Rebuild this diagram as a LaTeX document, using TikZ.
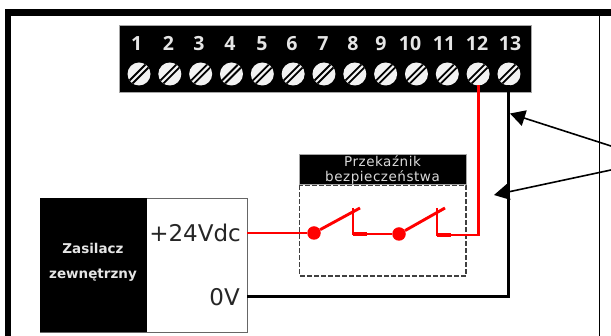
\documentclass[tikz,border=0pt]{standalone}
\usepackage{fontspec}
\setmainfont{DejaVu Sans}
\newfontfamily\numfont[Numbers=Lining]{Open Sans}
\newfontfamily\spacedfont[LetterSpace=4]{DejaVu Sans}
\usetikzlibrary{arrows.meta}
\tikzset{
  numlabel/.style={text=white!90!black,font=\numfont\fontsize{19.5}{20}\selectfont\bfseries,inner sep=0pt,anchor=base},
  redwire/.style={draw=red,line width=2.9pt},
  blackwire/.style={draw=black,line width=3pt},
  callout/.style={draw=black,line width=1.6pt,-{Triangle[length=15pt,width=16pt]}},
  dot/.style={circle,fill=red,inner sep=0pt,minimum size=13.5pt},
}
\newcommand{\screw}[2]{%
  \begin{scope}[shift={(#1,74)}]
    \fill[white!95!black] (0,0) circle (11.5);
    \begin{scope}
      \clip (0,0) circle (11.5);
      \draw[black,line width=1.8pt] (-12,9) -- (9,-12);
      \draw[black,line width=1.8pt] (-9,12) -- (12,-9);
    \end{scope}
    \coordinate (#2) at (0,11.5);
  \end{scope}}
\begin{document}
\begin{tikzpicture}[x=1pt,y=-1pt]
\useasboundingbox (0,0) rectangle (611,336);
\fill[white] (0,0) rectangle (611,336);
% outer frame
\fill[black] (5,9) rectangle (611,16);
\fill[black] (5,9) rectangle (11,336);
\draw[black,line width=0.9pt] (599.5,15) -- (599.5,336);
% terminal block
\draw[black!35,fill=black,line width=0.5pt] (119,25.5) rectangle (531,92);
\foreach \n/\x in {1/136.7,2/168.5,3/199,4/230,5/262,6/292,7/323,8/353,9/381,10/410,11/444,12/477,13/510}
  \node[numlabel] (n\n) at (\x,50.5) {\n};
\foreach \i in {1,...,13}{
  \pgfmathsetmacro{\xs}{139+30.83*(\i-1)}
  \screw{\xs}{s\i}
}
% relay
\draw[black!35,fill=black,line width=0.5pt] (299,154) rectangle (466,184);
\node[text=white!85!black,font=\spacedfont\fontsize{13.5}{14.5}\selectfont,align=center,inner sep=0pt] (relaytitle) at (382.5,170) {Przekaźnik\\bezpieczeństwa};
\draw[black!75,line width=1.2pt,dash pattern=on 4.5pt off 2.5pt] (299.5,185.5) rectangle (466,276);
% power supply
\draw[black!60,fill=white,line width=0.8pt] (40,198) rectangle (247,332);
\fill[black] (40,198) rectangle (147,332);
\node[text=white!90!black,font=\fontsize{13.5}{25}\selectfont\bfseries,align=center,inner sep=0pt] (psu) at (93,262.5) {Zasilacz\\zewnętrzny};
\node[font=\fontsize{23}{24}\selectfont,text=black!85,anchor=east,inner sep=0pt] (v24) at (241,233) {+24Vdc};
\node[font=\fontsize{23}{24}\selectfont,text=black!85,anchor=east,inner sep=0pt] (v0) at (240,297) {0V};
\coordinate (p24) at (247,233);
\coordinate (p0) at (247,297);
% contacts
\node[dot] (d1) at (314,233) {};
\node[dot] (d2) at (399,234) {};
\coordinate (b1) at (360,208);
\coordinate (b2) at (445,208);
\coordinate (c1t) at (353,208);
\coordinate (c1b) at (353,234);
\coordinate (c1e) at (367,234);
\coordinate (c2t) at (437,208);
\coordinate (c2b) at (437,235);
\coordinate (c2e) at (451,235);
\coordinate (corner) at (s12 |- c2e);
\coordinate (bcorner) at (s13 |- p0);
\draw[redwire] (p24) -- (d1);
\draw[redwire] (d1) -- (b1);
\draw[redwire] (c1t) -- (c1b) -- (c1e);
\draw[red,line width=4.5pt] (c1b) -- (c1e);
\draw[redwire] (c1e) -- (d2);
\draw[redwire] (d2) -- (b2);
\draw[redwire] (c2t) -- (c2b) -- (c2e);
\draw[red,line width=4.5pt] (c2b) -- (c2e);
\draw[redwire,line join=miter] (c2e) -- (corner) -- (s12);
\draw[blackwire,line join=miter] (p0) -- (bcorner) -- (s13);
% callouts
\coordinate (lab) at (611,146);
\coordinate (lab2) at (611,170);
\coordinate (t1) at (510,113.5);
\coordinate (t2) at (494,195);
\draw[callout] (lab) -- (t1);
\draw[callout] (lab2) -- (t2);
\end{tikzpicture}
\end{document}
